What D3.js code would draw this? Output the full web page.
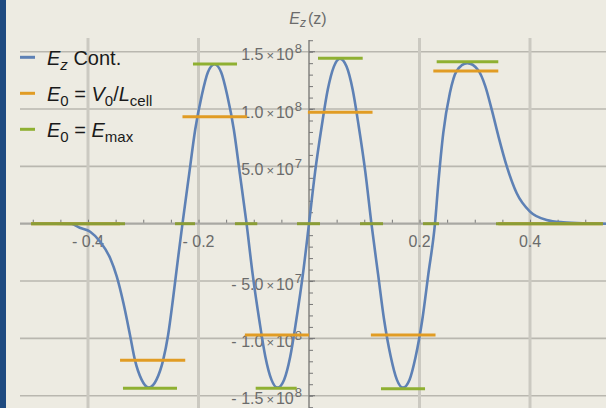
<!DOCTYPE html>
<html><head><meta charset="utf-8">
<script src="https://cdn.jsdelivr.net/npm/d3@7"></script>
<style>
html,body{margin:0;padding:0;background:#EDEBE2;}
svg{display:block;font-family:"Liberation Sans",Arial,sans-serif;}
</style></head>
<body>
<svg id="c" width="606" height="408"></svg>
<script>
// ---- data (z in m, Ez in V/m) ----
const curveZ = [-0.50,-0.46,-0.43,-0.415,-0.396,-0.378,-0.36,-0.348,-0.336,-0.324,-0.315,-0.303,-0.29,-0.276,-0.264,-0.255,-0.246,-0.237,-0.229,
  -0.217,-0.206,-0.194,-0.183,-0.171,-0.159,-0.148,-0.136,-0.125,-0.113,
  -0.102,-0.09,-0.079,-0.068,-0.057,-0.045,-0.034,-0.023,-0.011,0.0,
  0.011,0.023,0.034,0.045,0.056,0.068,0.079,0.09,0.102,0.113,
  0.125,0.136,0.148,0.159,0.170,0.182,0.193,0.205,0.216,0.228,
  0.234,0.243,0.255,0.267,0.2865,0.306,0.319,0.331,0.343,0.358,0.376,0.40,0.43,0.46,0.503,0.54];
const curveE = [0,0,-0.002e8,-0.035e8,-0.07e8,-0.157e8,-0.30e8,-0.46e8,-0.69e8,-0.97e8,-1.19e8,-1.36e8,-1.43e8,-1.36e8,-1.19e8,-0.97e8,-0.65e8,-0.30e8,0,
  0.43e8,0.82e8,1.12e8,1.32e8,1.39e8,1.32e8,1.12e8,0.82e8,0.43e8,0,
  -0.44e8,-0.84e8,-1.16e8,-1.36e8,-1.43e8,-1.36e8,-1.16e8,-0.84e8,-0.44e8,0,
  0.45e8,0.85e8,1.17e8,1.37e8,1.44e8,1.37e8,1.17e8,0.85e8,0.45e8,0,
  -0.44e8,-0.84e8,-1.16e8,-1.36e8,-1.43e8,-1.36e8,-1.16e8,-0.84e8,-0.44e8,0,
  0.35e8,0.79e8,1.14e8,1.33e8,1.40e8,1.34e8,1.20e8,0.99e8,0.76e8,0.50e8,0.265e8,0.105e8,0.032e8,0.012e8,0.003e8,0];

const orangeStart = [-0.503,-0.342,-0.229,-0.116,-0.002,0.112,0.225,0.3426];
const orangeEnd   = [-0.342,-0.224,-0.112,0.0,0.115,0.229,0.3426,0.532];
const orangeVal   = [0,-1.19e8,0.933e8,-0.971e8,0.972e8,-0.971e8,1.332e8,0];

const greenStart = [-0.503,-0.3367,-0.2425,-0.21,-0.134,-0.0965,-0.0217,0.0163,0.0923,0.1303,0.2063,0.2311,0.3385];
const greenEnd   = [-0.333,-0.2389,-0.2063,-0.1303,-0.0936,-0.0223,0.0199,0.0972,0.134,0.21,0.2353,0.3426,0.532];
const greenVal   = [0,-1.436e8,0,1.393e8,0,-1.436e8,0,1.443e8,0,-1.44e8,0,1.413e8,0];

const xTickVals = [-0.4,-0.2,0.2,0.4];
const xTickLabels = ["- 0.4","- 0.2","0.2","0.4"];
const yTickVals = [-1.5e8,-1.0e8,-0.5e8,0.5e8,1.0e8,1.5e8];
const yTickMant = ["- 1.5","- 1.0","- 5.0","5.0","1.0","1.5"];
const yTickExp  = ["8","8","7","7","8","8"];

const legendNames = ["Ez","V0L","Emax"];

// ---- drawing ----
const svg = d3.select("#c");
const W = 606, H = 408;
const z = d3.scaleLinear().domain([-0.5,0.5]).range([32.75,585.25]);
const y = d3.scaleLinear().domain([-1.5e8,1.5e8]).range([395.7,51.7]);
const blue="#5E81B5", orange="#E19C24", green="#8FB032";

svg.append("rect").attr("width",W).attr("height",H).attr("fill","#EDEBE2");
svg.append("rect").attr("width",6).attr("height",H).attr("fill","#1E4A80");

const xL = 20, xR = 606;
// horizontal gridlines
svg.append("g").selectAll("line").data(yTickVals).join("line")
  .attr("x1",xL).attr("x2",xR).attr("y1",d=>y(d)).attr("y2",d=>y(d))
  .attr("stroke","#B9B7AF").attr("stroke-width",1.6);
// vertical gridlines
svg.append("g").selectAll("line").data(xTickVals).join("line")
  .attr("x1",d=>z(d)).attr("x2",d=>z(d)).attr("y1",38).attr("y2",H)
  .attr("stroke","#CBC9C1").attr("stroke-width",3);

// x axis
const y0 = y(0);
svg.append("line").attr("x1",xL).attr("x2",xR).attr("y1",y0).attr("y2",y0)
  .attr("stroke","#A9A8A3").attr("stroke-width",2.2);
svg.append("g").attr("transform",`translate(0,${y0-1})`)
  .call(d3.axisTop(z).tickValues(d3.range(-10,11).map(i=>i*0.05)).tickSize(3).tickFormat(""))
  .call(g=>{g.select(".domain").remove(); g.selectAll("line").attr("stroke","#777").attr("stroke-width",1);});
svg.append("g").selectAll("text").data(xTickVals).join("text")
  .attr("x",d=>z(d)).attr("y",y0+23).attr("text-anchor","middle")
  .attr("font-size",16).attr("fill","#6B6B6B")
  .text((d,i)=>xTickLabels[i]);

// y axis
const x0 = z(0);
svg.append("line").attr("x1",x0).attr("x2",x0).attr("y1",40).attr("y2",H)
  .attr("stroke","#8A8A86").attr("stroke-width",1.6);
svg.append("g").attr("transform",`translate(${x0},0)`)
  .call(d3.axisRight(y).tickValues(d3.range(-16,17).map(i=>i*1e7)).tickSize(4).tickFormat(""))
  .call(g=>{g.select(".domain").remove(); g.selectAll("line").attr("stroke","#777").attr("stroke-width",1);});
svg.append("g").selectAll("line").data(yTickVals).join("line")
  .attr("x1",x0).attr("x2",x0+6).attr("y1",d=>y(d)).attr("y2",d=>y(d))
  .attr("stroke","#777").attr("stroke-width",1);
const yl = svg.append("g").selectAll("text").data(yTickVals).join("text")
  .attr("x",302).attr("y",d=>y(d)+8.5).attr("text-anchor","end")
  .attr("font-size",16).attr("fill","#6B6B6B");
yl.append("tspan").text((d,i)=>yTickMant[i]);
yl.append("tspan").attr("dx",3).attr("font-size",13).text("×");
yl.append("tspan").attr("dx",2).text("10");
yl.append("tspan").attr("dx",1).attr("dy",-7).attr("font-size",13).text((d,i)=>yTickExp[i]);

// title
const t = svg.append("text").attr("x",308).attr("y",24).attr("text-anchor","middle")
  .attr("font-size",16).attr("fill","#6B6B6B");
t.append("tspan").attr("font-style","italic").text("E");
t.append("tspan").attr("font-style","italic").attr("font-size",12).attr("dy",3).text("z");
t.append("tspan").attr("dy",-3).attr("dx",2).text("(z)");

// plot clip
svg.append("clipPath").attr("id","pc").append("rect").attr("x",xL).attr("y",30).attr("width",xR-xL).attr("height",H-30);
const plot = svg.append("g").attr("clip-path","url(#pc)");

const pts = curveZ.map((d,i)=>[d,curveE[i]]);
plot.append("path").datum(pts)
  .attr("d",d3.line().x(d=>z(d[0])).y(d=>y(d[1])).curve(d3.curveMonotoneX))
  .attr("fill","none").attr("stroke",blue).attr("stroke-width",2.6);

plot.append("g").selectAll("line").data(orangeVal).join("line")
  .attr("x1",(d,i)=>z(orangeStart[i])).attr("x2",(d,i)=>z(orangeEnd[i]))
  .attr("y1",d=>y(d)).attr("y2",d=>y(d))
  .attr("stroke",orange).attr("stroke-width",3);
plot.append("g").selectAll("line").data(greenVal).join("line")
  .attr("x1",(d,i)=>z(greenStart[i])).attr("x2",(d,i)=>z(greenEnd[i]))
  .attr("y1",d=>y(d)).attr("y2",d=>y(d))
  .attr("stroke",d=>d===0?"#8A9D36":green).attr("stroke-width",3);

// legend
const lg = svg.append("g");
const lc = [blue,orange,green];
const ly = [57.3,93.3,129.3];
legendNames.forEach((n,i)=>{
  lg.append("line").attr("x1",20).attr("x2",35).attr("y1",ly[i]).attr("y2",ly[i])
    .attr("stroke",lc[i]).attr("stroke-width",3);
  const tx = lg.append("text").attr("x",47).attr("y",ly[i]+7.7).attr("font-size",20).attr("fill","#1a1a1a");
  if(n==="Ez"){
    tx.append("tspan").attr("font-style","italic").text("E");
    tx.append("tspan").attr("font-style","italic").attr("font-size",15).attr("dy",5).text("z");
    tx.append("tspan").attr("dy",-5).text(" Cont.");
  } else {
    tx.append("tspan").attr("font-style","italic").text("E");
    tx.append("tspan").attr("font-size",15).attr("dy",5).text("0");
    tx.append("tspan").attr("dy",-5).text(" = ");
    if(n==="V0L"){
      tx.append("tspan").attr("font-style","italic").text("V");
      tx.append("tspan").attr("font-size",15).attr("dy",5).text("0");
      tx.append("tspan").attr("dy",-5).text("/");
      tx.append("tspan").attr("font-style","italic").text("L");
      tx.append("tspan").attr("font-size",15).attr("dy",5).text("cell");
    } else {
      tx.append("tspan").attr("font-style","italic").text("E");
      tx.append("tspan").attr("font-size",15).attr("dy",5).text("max");
    }
  }
});
</script>
</body></html>
